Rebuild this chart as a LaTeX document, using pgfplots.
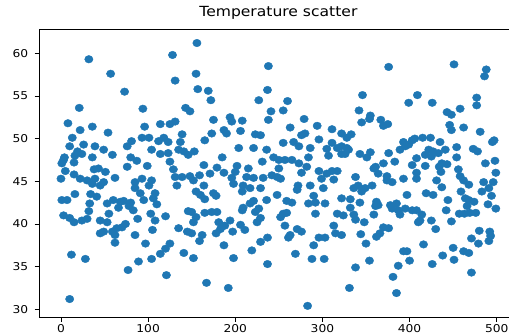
\documentclass[border=0pt]{standalone}
\usepackage{pgfplots}
\pgfplotsset{compat=1.18}
\usepackage{pgfplotstable}
\usepackage{fontspec}
\setmainfont{DejaVu Sans}
\usepackage{graphicx}
\definecolor{mpl}{HTML}{1F77B4}
\newcommand\sx[1]{\scalebox{1.14}[1]{#1}}
\pgfplotstableread{
x y
32 59.3
57 57.6
21 53.6
8 51.8
36 51.4
22 51.0
54 50.7
13 50.1
10 49.1
26 49.3
39 49.1
49 48.7
19 48.5
24 48.2
16 48.0
59 48.1
36 47.8
4 47.8
1 47.1
15 47.2
3 47.5
38 46.4
43 46.5
51 46.1
5 46.2
15 45.8
0 45.3
22 45.3
30 45.1
39 45.3
45 44.5
49 44.9
62 45.4
36 44.7
16 43.5
34 43.5
41 43.2
1 42.8
7 42.8
33 42.4
53 42.4
60 42.8
68 42.6
32 41.5
55 41.2
3 41.0
10 40.7
30 40.6
24 40.4
15 40.2
45 40.4
53 40.2
64 39.5
59 39.1
49 39.1
45 38.9
62 38.7
62 37.8
12 36.4
28 35.9
10 31.2
128 59.8
131 56.8
73 55.5
94 53.5
143 53.6
148 53.2
96 51.4
114 51.7
125 51.7
131 52.0
139 50.5
81 49.7
93 50.1
101 50.1
112 49.7
118 50.1
123 49.6
76 49.1
137 49.6
104 48.7
114 48.2
123 48.3
135 48.7
141 48.5
146 48.1
153 48.5
80 47.8
87 47.4
99 46.8
125 47.3
76 46.7
129 46.4
131 45.5
139 45.5
148 45.6
133 44.5
85 44.9
93 45.3
104 45.1
85 44.2
101 44.5
91 43.6
108 43.6
106 43.0
95 42.8
110 42.3
72 42.7
80 42.5
66 41.9
78 42.1
83 41.6
146 41.5
150 41.4
103 41.2
120 40.9
88 40.6
108 40.4
152 40.2
74 40.0
70 39.6
135 39.5
145 39.1
150 38.9
85 38.7
105 39.3
97 37.7
125 37.7
120 37.1
114 36.5
141 36.6
152 36.0
104 35.9
89 35.6
77 34.6
121 34.0
156 61.2
155 57.6
157 55.8
169 55.6
172 54.5
227 54.5
238 58.5
237 55.7
175 52.2
194 52.5
196 52.0
208 52.1
187 51.0
190 50.6
173 50.6
165 49.8
206 50.9
223 50.5
229 50.4
238 52.2
204 48.9
221 48.9
236 48.7
185 47.8
164 46.9
179 46.6
171 45.9
187 46.0
202 46.8
200 46.1
215 46.5
231 47.3
152 45.1
159 45.7
196 45.4
198 44.7
213 45.5
221 45.4
232 45.4
209 44.5
217 44.2
229 44.2
164 44.5
155 43.8
160 43.4
175 43.6
178 43.3
165 42.9
208 43.8
221 42.7
217 42.4
209 41.9
208 41.6
227 41.8
223 41.4
165 41.3
173 41.4
179 41.4
155 40.8
181 40.2
185 39.8
183 39.4
188 39.8
194 40.4
206 39.9
211 39.3
197 39.1
229 40.7
225 40.2
178 38.9
162 38.7
159 38.0
187 37.5
229 37.9
219 36.9
237 38.4
198 36.0
237 35.3
167 33.1
192 32.5
260 54.4
241 53.2
255 53.3
263 51.3
279 52.3
294 51.5
311 51.1
322 50.6
276 50.4
280 50.6
296 49.9
255 49.5
267 49.6
273 49.1
286 48.9
311 49.5
317 48.9
305 48.8
307 48.0
322 49.1
322 48.2
244 47.8
250 47.5
257 47.5
265 47.5
284 47.8
273 47.1
282 46.7
250 46.5
276 46.0
296 46.2
305 45.9
311 46.2
317 46.2
299 45.3
313 45.2
242 45.7
248 45.5
252 45.3
272 44.5
286 44.5
301 44.2
271 44.0
248 43.4
290 43.3
322 43.0
236 42.8
259 42.7
265 42.5
284 42.4
292 42.5
303 42.4
292 41.2
255 41.2
259 41.3
252 40.8
317 41.2
324 41.0
257 39.8
271 39.4
276 39.1
313 39.8
263 38.7
261 38.4
296 38.4
303 38.4
315 38.9
322 38.7
290 37.5
269 36.5
288 35.9
302 35.9
283 30.4
376 58.4
346 55.1
399 54.2
409 55.1
342 53.3
355 52.7
354 52.3
345 51.9
367 52.2
370 51.5
375 51.7
333 50.5
328 50.1
328 48.9
330 48.7
326 48.2
343 48.2
355 48.4
351 47.8
376 48.3
393 49.6
399 49.3
403 49.8
406 50.0
389 48.7
395 49.1
408 47.7
383 47.3
370 47.1
361 46.7
359 46.5
364 45.9
374 45.6
374 45.1
380 44.9
393 45.3
403 46.9
408 46.0
408 45.3
338 45.5
357 44.5
341 44.5
336 44.2
349 44.2
345 43.8
397 43.4
332 42.9
343 42.5
362 42.6
364 42.2
361 42.1
378 42.2
385 42.4
380 41.8
387 41.6
395 41.8
403 41.6
332 41.9
336 41.1
359 41.1
389 41.1
338 40.5
410 40.2
348 40.2
370 39.6
376 39.5
366 38.9
362 38.5
344 38.8
350 37.7
393 36.8
397 36.8
400 35.7
387 35.1
354 35.7
338 34.9
381 33.8
385 31.9
331 32.5
451 58.7
488 58.1
486 57.3
426 54.2
443 53.1
448 52.8
458 53.5
477 54.8
477 53.9
446 51.6
448 51.0
462 51.3
481 50.8
497 49.8
495 49.6
415 50.1
424 50.1
435 49.6
422 48.7
427 48.5
433 48.3
441 48.7
454 49.0
473 48.8
478 48.5
418 48.1
425 47.9
454 47.8
498 47.4
487 47.1
437 47.1
443 47.0
434 46.7
418 46.8
499 46.0
456 46.4
436 46.1
458 45.6
462 45.1
468 44.6
431 45.1
496 44.9
485 44.9
491 44.2
483 43.8
437 44.3
459 43.8
419 43.6
427 43.4
444 42.8
464 43.0
468 42.8
474 42.6
494 43.3
490 42.3
499 41.8
466 42.1
442 41.6
457 41.2
463 41.2
469 41.3
476 41.3
408 41.6
414 41.1
412 40.4
425 40.4
448 40.3
430 39.4
480 39.2
492 39.1
493 38.6
471 38.3
479 37.7
491 38.0
416 37.6
450 37.2
438 36.3
462 36.8
468 36.6
451 35.8
426 35.3
471 34.3
}\datatable
\begin{document}
\begin{tikzpicture}
\begin{axis}[
  at={(0,0)}, anchor=south west,
  scale only axis, width=478.8bp, height=288bp,
  xmin=-25.2, xmax=524.2, ymin=29.06, ymax=62.81,
  axis line style={line width=0.8bp, black},
  tick align=outside, tick pos=left,
  major tick length=4.5bp,
  every tick/.style={black, line width=0.8bp},
  xtick={0,100,200,300,400,500},
  xticklabels={\sx{0},\sx{100},\sx{200},\sx{300},\sx{400},\sx{500}},
  ytick={30,35,40,45,50,55,60},
  yticklabels={\sx{30},\sx{35},\sx{40},\sx{45},\sx{50},\sx{55},\sx{60}},
  tick label style={font=\fontsize{10.8}{12}\selectfont, inner sep=0pt},
  xticklabel style={anchor=north, yshift=-2.8bp},
  yticklabel style={anchor=east, xshift=-6bp},
  title={\scalebox{1.117}[1]{Temperature scatter}},
  title style={at={(0.5,1)}, anchor=base, yshift=7.3bp, inner sep=0pt,
    font=\fontsize{14}{16}\selectfont},
]
\addplot[only marks, mark=*, mark size=3.8bp, color=mpl,
  mark options={draw=mpl, fill=mpl, xscale=1.1}] table[x=x, y=y] {\datatable};
\end{axis}
\pgfresetboundingbox
\useasboundingbox (-39bp,-15.7bp) rectangle (470bp,317.3bp);
\end{tikzpicture}
\end{document}
